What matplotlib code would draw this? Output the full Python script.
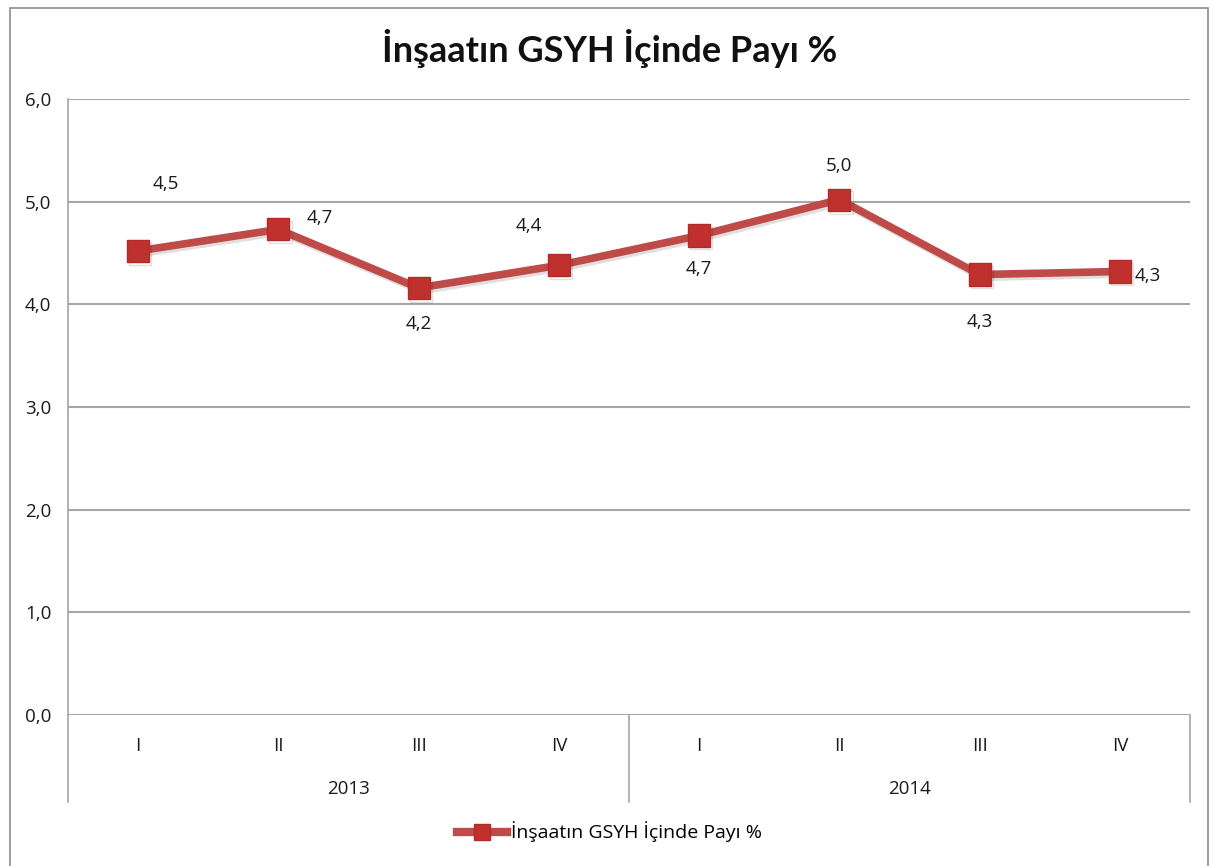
import matplotlib.pyplot as plt
import matplotlib.patheffects as pe
from matplotlib.patches import Rectangle
from matplotlib.lines import Line2D

# data
quarters = ["I", "II", "III", "IV", "I", "II", "III", "IV"]
years = ["2013", "2014"]
share = [4.52, 4.73, 4.16, 4.38, 4.67, 5.02, 4.29, 4.32]
share_labels = ["4,5", "4,7", "4,2", "4,4", "4,7", "5,0", "4,3", "4,3"]
yticks = [0, 1, 2, 3, 4, 5, 6]
title = "İnşaatın GSYH İçinde Payı %"

# label offsets in points (dx, dy) per point, as placed in the original
label_offsets = [(20, 48), (30, 8), (0, -26), (-22, 28), (0, -24), (0, 24), (0, -34), (20, -3)]

plt.rcParams["font.family"] = ["Open Sans", "DejaVu Sans"]

fig = plt.figure(figsize=(12.19, 8.66), dpi=100)
ax = fig.add_axes([68 / 1219, 1 - 715 / 866, 1122 / 1219, 616 / 866])

grid_col = "#a6a6a6"
line_col = "#be4b48"
marker_col = "#c0302d"
text_col = "#1a1a1a"
fs = 13.5

x = list(range(len(share)))
ax.plot(
    x, share, color=line_col, linewidth=5.5, marker="s", markersize=16,
    markerfacecolor=marker_col, markeredgecolor="#b22b28", zorder=3,
    path_effects=[pe.SimpleLineShadow(offset=(1.5, -2), alpha=0.12), pe.Normal()],
)

for xi, v, lab, (dx, dy) in zip(x, share, share_labels, label_offsets):
    ax.annotate(lab, (xi, v), xytext=(dx, dy), textcoords="offset points",
                ha="center", va="center", fontsize=fs, color=text_col)

ax.set_xlim(-0.5, len(share) - 0.5)
ax.set_ylim(0, 6)
ax.set_yticks(yticks)
ax.set_yticklabels([f"{t},0" for t in yticks], fontsize=fs, color=text_col)
ax.tick_params(axis="y", length=0, pad=12)
ax.set_xticks([])
ax.grid(axis="y", color=grid_col, linewidth=1.5)
ax.set_axisbelow(True)
for s in ["top", "right", "bottom"]:
    ax.spines[s].set_visible(False)
ax.spines["left"].set_color(grid_col)
ax.spines["left"].set_linewidth(1.2)

# category axis: quarters and years
for xi, q in zip(x, quarters):
    ax.text(xi, -0.3, q, ha="center", va="center", fontsize=fs,
            color=text_col, clip_on=False)
for i, yr in enumerate(years):
    ax.text(i * 4 + 1.5, -0.72, yr, ha="center", va="center", fontsize=fs,
            color=text_col, clip_on=False)
for xs in [-0.5, 3.5, 7.5]:
    ax.plot([xs, xs], [0, -0.85], color=grid_col, linewidth=1.2, clip_on=False)

fig.text(0.5, 1 - 48 / 866, title, ha="center", va="center", fontsize=26,
         fontweight="bold", color="#111111", family=["Lato", "DejaVu Sans"])

# legend
handle = Line2D([], [], color=line_col, linewidth=6, marker="s", markersize=12,
                markerfacecolor=marker_col, markeredgecolor="#b22b28")
fig.legend([handle], [title], loc="center", bbox_to_anchor=(0.5, 1 - 832 / 866),
           frameon=False, fontsize=14, handlelength=2.6, handletextpad=0.2)

# outer chart border
fig.patches.append(Rectangle((10 / 1219, -0.01), 1198 / 1219, 1 - 8 / 866 + 0.01,
                             transform=fig.transFigure, fill=False,
                             edgecolor="#8c8c8c", linewidth=1.2))

fig.savefig("out.png", dpi=100)
